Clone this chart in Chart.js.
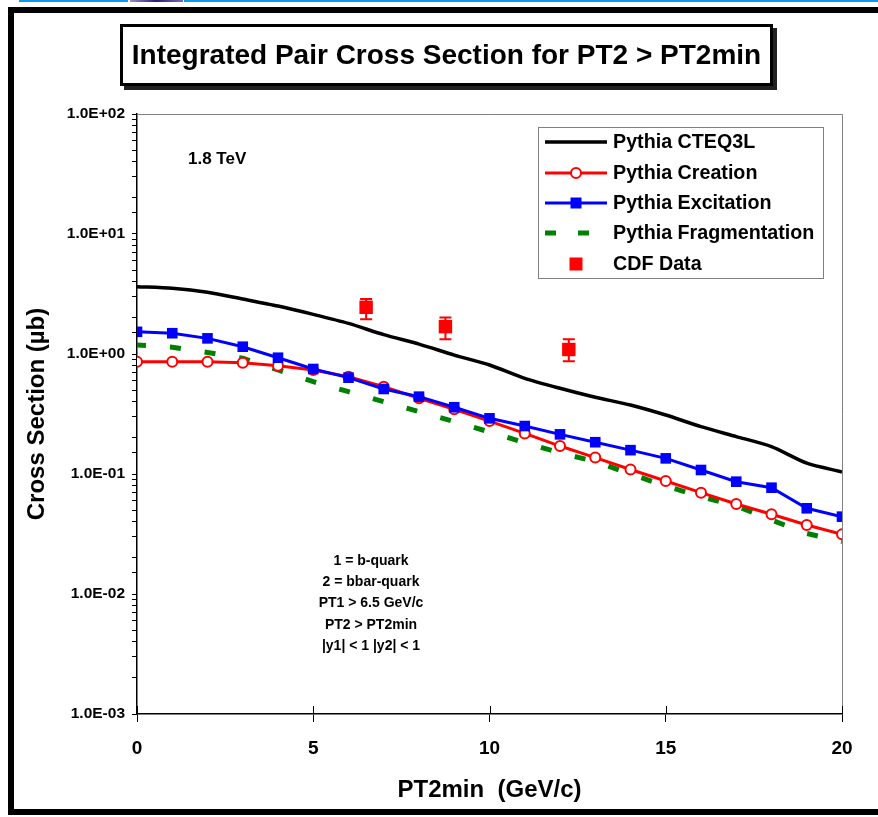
<!DOCTYPE html>
<html>
<head>
<meta charset="utf-8">
<script src="https://cdn.jsdelivr.net/npm/chart.js@4.4.0/dist/chart.umd.min.js"></script>
<style>
  html, body { margin: 0; padding: 0; background: #fff; }
  #stage { position: relative; width: 878px; height: 817px; overflow: hidden; font-family: "Liberation Sans", Arial, sans-serif; }
  .bar-blue { position: absolute; top: 0; height: 2px; background: #0a98f0; }
  .bar-img { position: absolute; top: 0; left: 130px; width: 53px; height: 2px; background: linear-gradient(90deg, #9a8cc8, #2c1c70, #7a6ab0); }
  .frame { position: absolute; left: 8px; top: 7px; width: 900px; height: 808px; box-sizing: border-box; border: 6px solid #000; border-right: none; }
  .title-box { position: absolute; left: 120px; top: 24px; width: 653px; height: 62px; box-sizing: border-box; border: 3px solid #000; background: #fff; box-shadow: 4px 4px 0 #222; font-weight: bold; font-size: 28px; line-height: 56px; text-align: center; white-space: nowrap; z-index: 2; }
  canvas { position: absolute; left: 0; top: 0; z-index: 1; }
</style>
</head>
<body>
<div id="stage">
  <div class="bar-blue" style="left:19px;width:109px"></div>
  <div class="bar-img"></div>
  <div class="bar-blue" style="left:184px;width:694px"></div>
  <div class="frame"></div>
  <div class="title-box">Integrated Pair Cross Section for PT2 &gt; PT2min</div>
  <canvas id="chart" width="878" height="817"></canvas>
</div>
<script>
// x values (PT2min, GeV/c)
const ptMin = [0, 1, 2, 3, 4, 5, 6, 7, 8, 9, 10, 11, 12, 13, 14, 15, 16, 17, 18, 19, 20];
const xTicks = [0, 5, 10, 15, 20];

// cross sections (microbarn)
const cteq3l = [3.64, 3.53, 3.27, 2.87, 2.51, 2.14, 1.80, 1.45, 1.21, 0.98, 0.81, 0.627, 0.518, 0.436, 0.376, 0.310, 0.248, 0.205, 0.169, 0.123, 0.104];
const creation = [0.863, 0.863, 0.863, 0.846, 0.799, 0.736, 0.647, 0.534, 0.428, 0.346, 0.276, 0.218, 0.171, 0.137, 0.109, 0.0875, 0.0699, 0.0562, 0.0462, 0.0376, 0.0314];
const excitation = [1.53, 1.49, 1.35, 1.15, 0.931, 0.750, 0.635, 0.511, 0.441, 0.360, 0.291, 0.251, 0.214, 0.184, 0.158, 0.135, 0.108, 0.0863, 0.0769, 0.0518, 0.0441];
const fragmentation = [1.19, 1.14, 1.03, 0.921, 0.736, 0.588, 0.485, 0.400, 0.331, 0.273, 0.224, 0.182, 0.150, 0.127, 0.100, 0.0794, 0.0647, 0.0541, 0.0414, 0.0320, 0.0273];

// CDF data with error bars
const cdfX = [6.5, 8.75, 12.25];
const cdfY = [2.45, 1.69, 1.09];
const cdfHi = [2.87, 2.01, 1.33];
const cdfLo = [1.95, 1.33, 0.87];

const legendLabels = ['Pythia CTEQ3L', 'Pythia Creation', 'Pythia Excitation', 'Pythia Fragmentation', 'CDF Data'];
const noteTop = '1.8 TeV';
const noteLines = ['1 = b-quark', '2 = bbar-quark', 'PT1 > 6.5 GeV/c', 'PT2 > PT2min', '|y1| < 1 |y2| < 1'];

const FONT = '"Liberation Sans", Arial, sans-serif';
const pts = ys => ptMin.map((x, i) => ({ x, y: ys[i] }));

function expLabel(v) {
  const e = Math.round(Math.log10(v));
  if (Math.abs(Math.log10(v) - e) > 1e-6) return '';
  const s = e < 0 ? '-' : '+';
  return '1.0E' + s + String(Math.abs(e)).padStart(2, '0');
}

// plot frame, x ticks crossing the axis, CDF error bars (under the squares)
const underlay = {
  id: 'underlay',
  beforeDatasetsDraw(chart) {
    const { ctx, chartArea: a, scales: { x, y } } = chart;
    ctx.save();
    ctx.strokeStyle = '#808080';
    ctx.lineWidth = 1;
    ctx.beginPath();
    ctx.moveTo(a.left, a.top + 0.5); ctx.lineTo(a.right + 0.5, a.top + 0.5);
    ctx.lineTo(a.right + 0.5, a.bottom);
    ctx.stroke();
    ctx.strokeStyle = '#000';
    xTicks.forEach(v => {
      const px = Math.round(x.getPixelForValue(v)) + 0.5;
      ctx.beginPath();
      ctx.moveTo(px, a.bottom - 8); ctx.lineTo(px, a.bottom);
      ctx.stroke();
    });
    cdfX.forEach((xv, i) => {
      const px = x.getPixelForValue(xv);
      const top = y.getPixelForValue(cdfHi[i]);
      const bot = y.getPixelForValue(cdfLo[i]);
      [['#fff', 4], ['#ff0000', 2]].forEach(([c, w]) => {
        ctx.strokeStyle = c;
        ctx.lineWidth = w;
        ctx.beginPath();
        ctx.moveTo(px, top); ctx.lineTo(px, bot);
        ctx.moveTo(px - 6, top); ctx.lineTo(px + 6, top);
        ctx.moveTo(px - 6, bot); ctx.lineTo(px + 6, bot);
        ctx.stroke();
      });
    });
    ctx.restore();
  }
};

// legend and notes
const overlay = {
  id: 'overlay',
  afterDraw(chart) {
    const { ctx } = chart;
    const ds = chart.data.datasets;
    ctx.save();
    const bx = 538, by = 127, bw = 285, bh = 151;
    ctx.fillStyle = '#fff';
    ctx.fillRect(bx, by, bw, bh);
    ctx.strokeStyle = '#808080';
    ctx.lineWidth = 1;
    ctx.strokeRect(bx + 0.5, by + 0.5, bw, bh);
    const rows = [142, 173, 203, 233, 264];
    const x0 = 545, x1 = 607, xm = 576;
    ctx.font = 'bold 19.7px ' + FONT;
    ctx.textBaseline = 'middle';
    ctx.fillStyle = '#000';
    legendLabels.forEach((t, i) => ctx.fillText(t, 613, rows[i] + 1));
    // CTEQ3L
    ctx.strokeStyle = ds[1].borderColor; ctx.lineWidth = ds[1].borderWidth;
    ctx.beginPath(); ctx.moveTo(x0, rows[0]); ctx.lineTo(x1, rows[0]); ctx.stroke();
    // Creation
    ctx.strokeStyle = ds[3].borderColor; ctx.lineWidth = ds[3].borderWidth;
    ctx.beginPath(); ctx.moveTo(x0, rows[1]); ctx.lineTo(x1, rows[1]); ctx.stroke();
    ctx.fillStyle = '#fff'; ctx.lineWidth = 2;
    ctx.beginPath(); ctx.arc(xm, rows[1], 5, 0, Math.PI * 2); ctx.fill(); ctx.stroke();
    // Excitation
    ctx.strokeStyle = ds[2].borderColor; ctx.lineWidth = ds[2].borderWidth;
    ctx.beginPath(); ctx.moveTo(x0, rows[2]); ctx.lineTo(x1, rows[2]); ctx.stroke();
    ctx.fillStyle = ds[2].borderColor;
    ctx.fillRect(xm - 5.5, rows[2] - 5.5, 11, 11);
    // Fragmentation
    ctx.fillStyle = ds[4].borderColor;
    ctx.fillRect(545, rows[3] - 2.5, 11, 5);
    ctx.fillRect(578, rows[3] - 2.5, 11, 5);
    // CDF
    ctx.fillStyle = ds[0].backgroundColor;
    ctx.fillRect(xm - 6.5, rows[4] - 6.5, 13, 13);

    ctx.fillStyle = '#000';
    ctx.font = 'bold 17px ' + FONT;
    ctx.textAlign = 'left';
    ctx.fillText(noteTop, 188, 159);
    ctx.font = 'bold 14px ' + FONT;
    ctx.textAlign = 'center';
    noteLines.forEach((t, i) => ctx.fillText(t, 371, 561 + i * 21.3));
    ctx.restore();
  }
};

new Chart(document.getElementById('chart'), {
  type: 'line',
  data: {
    datasets: [
      {
        label: legendLabels[4],
        data: cdfX.map((x, i) => ({ x, y: cdfY[i] })),
        showLine: false,
        pointStyle: 'rect',
        pointRadius: 9.5,
        backgroundColor: '#ff0000',
        borderColor: '#ff0000',
        borderWidth: 0
      },
      {
        label: legendLabels[0],
        data: pts(cteq3l),
        borderColor: '#000000',
        borderWidth: 3.5,
        pointRadius: 0,
        tension: 0.25
      },
      {
        label: legendLabels[2],
        data: pts(excitation),
        borderColor: '#0000ff',
        backgroundColor: '#0000ff',
        borderWidth: 3,
        pointStyle: 'rect',
        pointRadius: 7.5,
        pointBorderWidth: 0,
        tension: 0
      },
      {
        label: legendLabels[1],
        data: pts(creation),
        borderColor: '#ff0000',
        borderWidth: 3,
        pointStyle: 'circle',
        pointRadius: 5,
        pointBorderWidth: 2,
        pointBackgroundColor: '#ffffff',
        pointBorderColor: '#ff0000',
        tension: 0
      },
      {
        label: legendLabels[3],
        data: pts(fragmentation),
        borderColor: '#008000',
        borderWidth: 5,
        borderDash: [11, 24],
        borderDashOffset: 2,
        borderCapStyle: 'butt',
        pointRadius: 0,
        tension: 0
      }
    ]
  },
  options: {
    responsive: false,
    animation: false,
    events: [],
    layout: { padding: { left: 0, right: 36, top: 114, bottom: 0 } },
    plugins: { legend: { display: false }, tooltip: { enabled: false } },
    scales: {
      x: {
        type: 'linear',
        min: 0,
        max: 20,
        afterBuildTicks: s => { s.ticks = xTicks.map(v => ({ value: v })); },
        afterFit: s => { s.height = 103; },
        ticks: { color: '#000', font: { family: FONT, size: 19, weight: 'bold' }, padding: 15, maxRotation: 0 },
        grid: { drawOnChartArea: false, tickLength: 8, color: '#000' },
        border: { color: '#000', width: 1.5 },
        title: { display: true, text: 'PT2min  (GeV/c)', color: '#000', font: { family: FONT, size: 24, weight: 'bold' }, padding: { bottom: 12 } }
      },
      y: {
        type: 'logarithmic',
        min: 0.001,
        max: 100,
        afterFit: s => { s.width = 137; },
        ticks: { color: '#000', autoSkip: false, font: { family: FONT, size: 15.5, weight: 'bold' }, padding: 7, callback: v => expLabel(v) },
        grid: { drawOnChartArea: false, tickLength: 5, color: '#000' },
        border: { color: '#000', width: 1.5 },
        title: { display: true, text: 'Cross Section (µb)', color: '#000', font: { family: FONT, size: 24, weight: 'bold' }, padding: { top: 23 } }
      }
    }
  },
  plugins: [underlay, overlay]
});
</script>
</body>
</html>
